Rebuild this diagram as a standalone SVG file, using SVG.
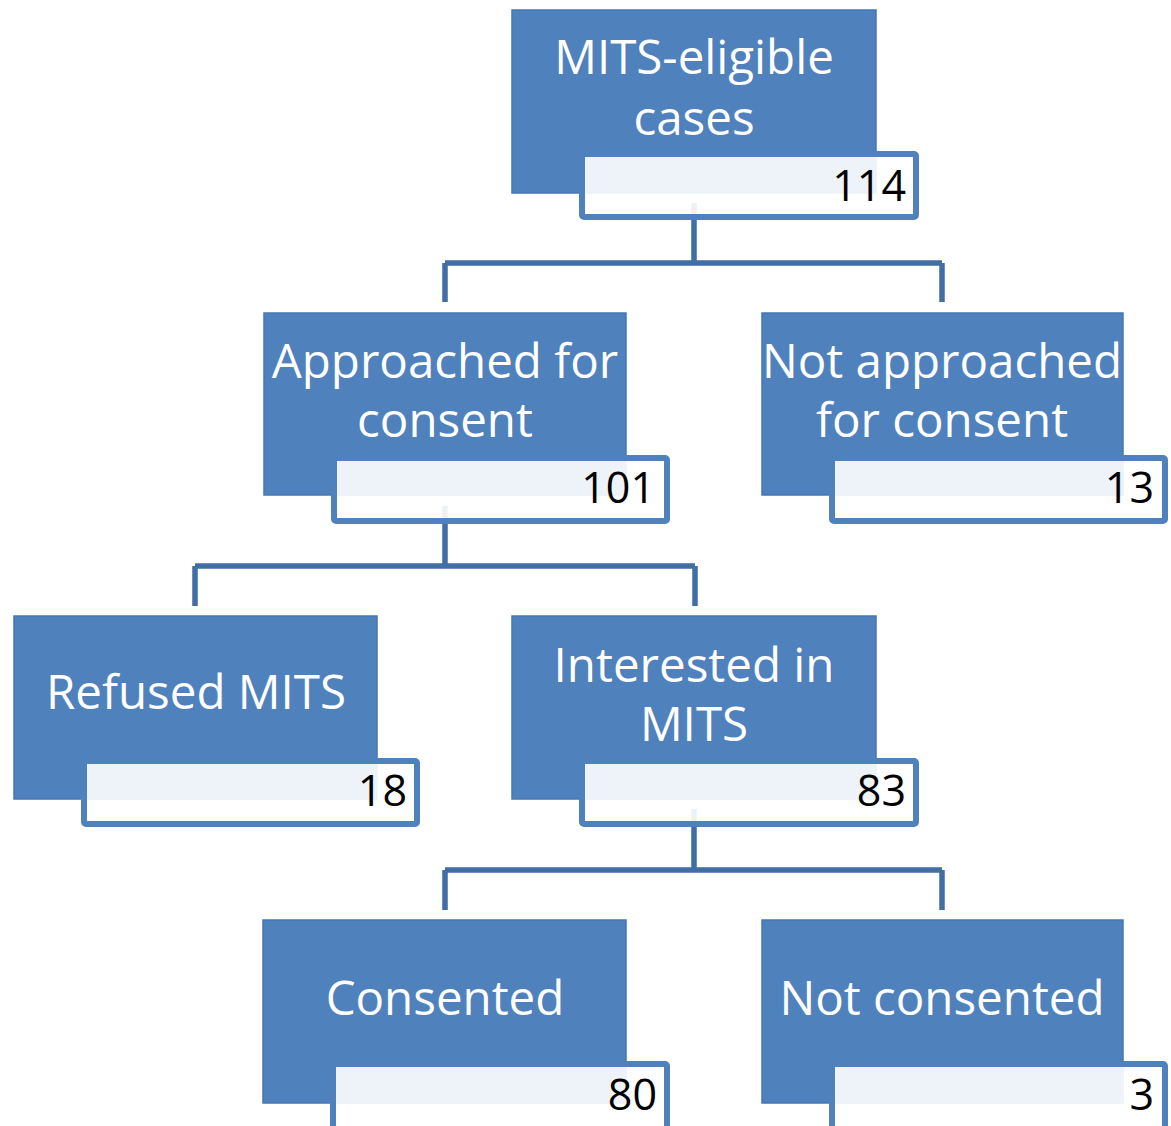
<svg xmlns="http://www.w3.org/2000/svg" width="1171" height="1126" viewBox="0 0 1171 1126">
<style>
.blk{fill:#4f81bd;stroke:#4677b3;stroke-width:1.5}
.box{fill:#ffffff;fill-opacity:0.9;stroke:#4f81bd;stroke-width:6}
.lbl{font-family:"Open Sans","Liberation Sans",sans-serif;font-size:47.5px;fill:#ffffff;text-anchor:middle}
.num{font-family:"Open Sans","Liberation Sans",sans-serif;font-size:43px;fill:#000000;text-anchor:end}
.con{fill:none;stroke:#416ea5;stroke-width:5.5}
</style>
<rect width="1171" height="1126" fill="#ffffff"/>
<g id="connectors">
<path class="con" d="M694 203 V263 M445 263 H942 M445 263 V302 M942 263 V302"/>
<path class="con" d="M445 506 V566 M195 566 H695 M195 566 V606 M695 566 V606"/>
<path class="con" d="M694 809 V870 M445 870 H942 M445 870 V910 M942 870 V910"/>
</g>
<g id="n-eligible">
<rect class="blk" x="512" y="10" width="364" height="183"/>
<rect class="box" x="582" y="154" width="334" height="63" rx="2"/>
<text class="lbl" x="694" y="74">MITS-eligible</text>
<text class="lbl" x="694" y="135">cases</text>
<text class="num" x="906" y="201">114</text>
</g>
<g id="n-approached">
<rect class="blk" x="264" y="313" width="362" height="182"/>
<rect class="box" x="334" y="458" width="333" height="63" rx="2"/>
<text class="lbl" x="445" y="378">Approached for</text>
<text class="lbl" x="445" y="437">consent</text>
<text class="num" x="655" y="503">101</text>
</g>
<g id="n-not-approached">
<rect class="blk" x="762" y="313" width="361" height="182"/>
<rect class="box" x="832" y="458" width="333" height="63" rx="2"/>
<text class="lbl" x="942" y="378">Not approached</text>
<text class="lbl" x="942" y="437">for consent</text>
<text class="num" x="1154" y="503">13</text>
</g>
<g id="n-refused">
<rect class="blk" x="14" y="616" width="363" height="183"/>
<rect class="box" x="84" y="761" width="333" height="63" rx="2"/>
<text class="lbl" x="196" y="709">Refused MITS</text>
<text class="num" x="407" y="806">18</text>
</g>
<g id="n-interested">
<rect class="blk" x="512" y="616" width="364" height="183"/>
<rect class="box" x="582" y="761" width="334" height="63" rx="2"/>
<text class="lbl" x="694" y="682">Interested in</text>
<text class="lbl" x="694" y="741">MITS</text>
<text class="num" x="906" y="806">83</text>
</g>
<g id="n-consented">
<rect class="blk" x="263" y="920" width="363" height="183"/>
<rect class="box" x="333" y="1064" width="334" height="66" rx="2"/>
<text class="lbl" x="445" y="1015">Consented</text>
<text class="num" x="657" y="1110">80</text>
</g>
<g id="n-not-consented">
<rect class="blk" x="762" y="920" width="361" height="183"/>
<rect class="box" x="832" y="1064" width="333" height="66" rx="2"/>
<text class="lbl" x="942" y="1015">Not consented</text>
<text class="num" x="1154" y="1110">3</text>
</g>
</svg>
